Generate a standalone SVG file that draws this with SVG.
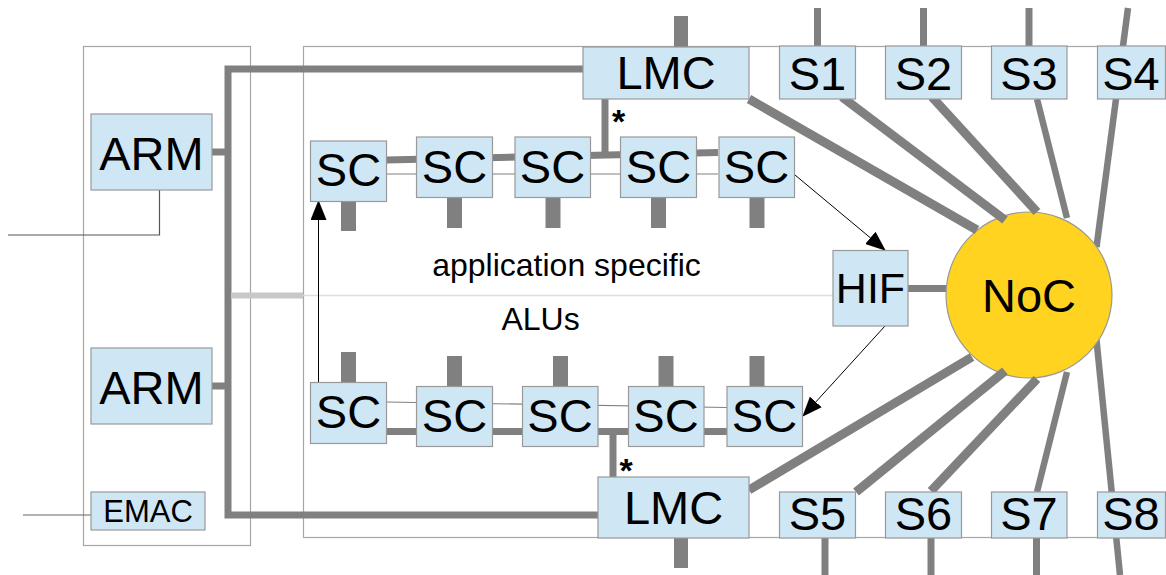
<svg xmlns="http://www.w3.org/2000/svg" width="1166" height="575" viewBox="0 0 1166 575">
  <style>
    .frame { fill: none; stroke: #a6a6a6; stroke-width: 1.2; }
    .box { fill: #cfe7f5; stroke: #999999; stroke-width: 1.2; }
    .lbl { font-family: "Liberation Sans", Arial, sans-serif; font-size: 47px; fill: #000; text-anchor: middle; }
    .small { font-size: 31px; }
    .note { font-family: "Liberation Sans", Arial, sans-serif; font-size: 32px; fill: #000; text-anchor: middle; }
    .star { font-family: "Liberation Sans", Arial, sans-serif; font-size: 34px; font-weight: bold; fill: #000; text-anchor: middle; }
    .bus { stroke: #808080; stroke-width: 7; fill: none; }
    .fat { stroke: #808080; stroke-width: 9; fill: none; }
    .mid { stroke: #808080; stroke-width: 6.5; fill: none; }
    .stub { stroke: #808080; stroke-width: 15; fill: none; }
    .thin { stroke: #808080; stroke-width: 1.2; fill: none; }
    .ext { stroke: #555555; stroke-width: 1.2; fill: none; }
    .arrow { stroke: #000; stroke-width: 1; fill: none; marker-end: url(#head); }
  </style>
  <defs>
    <marker id="head" markerWidth="20" markerHeight="16" refX="19" refY="8" orient="auto" markerUnits="userSpaceOnUse">
      <path d="M0,0 L20,8 L0,16 Z" fill="#000"/>
    </marker>
  </defs>

  <!-- enclosing frames -->
  <rect class="frame" x="83.5" y="46.5" width="167" height="499"/>
  <rect class="frame" x="303.5" y="46.5" width="900" height="491"/>

  <g id="connectors">
    <!-- host bus -->
    <polyline class="bus" points="583,69 228,69 228,515 598,515"/>
    <line class="bus" x1="212" y1="152" x2="228" y2="152"/>
    <line class="bus" x1="212" y1="386" x2="228" y2="386"/>
    <line stroke="#c8c8c8" stroke-width="6" x1="231" y1="295.5" x2="303" y2="295.5"/>
    <line stroke="#dddddd" stroke-width="1.5" x1="303" y1="295.5" x2="833" y2="295.5"/>
    <!-- external links -->
    <polyline class="ext" points="159.5,190 159.5,235 8,235"/>
    <line stroke="#666" stroke-width="1.2" x1="23" y1="515" x2="91" y2="515"/>

    <!-- upper SC chain -->
    <line class="bus" x1="386" y1="160" x2="718" y2="152.5"/>
    <line class="thin" x1="386" y1="174" x2="718" y2="174"/>
    <line class="bus" x1="605" y1="99" x2="605" y2="156"/>
    <line class="stub" x1="348.5" y1="201" x2="348.5" y2="231"/>
    <line class="stub" x1="454.5" y1="197" x2="454.5" y2="228"/>
    <line class="stub" x1="553" y1="197" x2="553" y2="228"/>
    <line class="stub" x1="658.5" y1="197" x2="658.5" y2="228"/>
    <line class="stub" x1="757" y1="197" x2="757" y2="228"/>
    <line stroke="#808080" stroke-width="14" x1="681" y1="16" x2="681" y2="47"/>

    <!-- lower SC chain -->
    <line class="bus" x1="386" y1="431.5" x2="727" y2="431.5"/>
    <line class="thin" x1="386" y1="402" x2="727" y2="407.5"/>
    <line class="bus" x1="613" y1="431" x2="613" y2="477"/>
    <line class="stub" x1="348.5" y1="352" x2="348.5" y2="382"/>
    <line class="stub" x1="454.5" y1="356" x2="454.5" y2="387"/>
    <line class="stub" x1="560.5" y1="356" x2="560.5" y2="387"/>
    <line class="stub" x1="666" y1="356" x2="666" y2="387"/>
    <line class="stub" x1="757" y1="356" x2="757" y2="387"/>
    <line stroke="#808080" stroke-width="14" x1="681" y1="538" x2="681" y2="568"/>

    <!-- control flow arrows -->
    <line class="arrow" x1="318.5" y1="382" x2="318.5" y2="201"/>
    <line class="arrow" x1="795" y1="175" x2="885" y2="250"/>
    <line class="arrow" x1="885" y1="326" x2="803" y2="416"/>

    <!-- HIF to NoC -->
    <line class="bus" x1="908" y1="288.5" x2="947" y2="288.5"/>

    <!-- slave port stubs -->
    <line class="bus" x1="817.5" y1="8" x2="817.5" y2="46"/>
    <line class="bus" x1="923.5" y1="8" x2="923.5" y2="46"/>
    <line class="bus" x1="1029" y1="8" x2="1029" y2="46"/>
    <line class="bus" x1="825" y1="538" x2="825" y2="575"/>
    <line class="bus" x1="931" y1="538" x2="931" y2="575"/>
    <line class="bus" x1="1036.5" y1="538" x2="1036.5" y2="575"/>
    <line class="mid" x1="1096.5" y1="247" x2="1128" y2="8"/>
    <line class="mid" x1="1096.5" y1="340" x2="1120" y2="575"/>
  </g>

  <g id="noc">
    <circle cx="1029" cy="295" r="83" fill="#ffd320" stroke="#999999" stroke-width="1.2"/>
    <text class="lbl" x="1029" y="312">NoC</text>
  </g>

  <g id="noc-links">
    <line class="fat" x1="749" y1="99" x2="977" y2="230"/>
    <line class="fat" x1="842" y1="97" x2="1005" y2="220"/>
    <line class="fat" x1="932" y1="97" x2="1037" y2="212"/>
    <line class="mid" x1="1037" y1="99" x2="1067" y2="218"/>
    <line class="fat" x1="749" y1="490" x2="972" y2="357"/>
    <line class="fat" x1="856" y1="492" x2="1005" y2="371"/>
    <line class="fat" x1="931" y1="491" x2="1037" y2="379"/>
    <line class="mid" x1="1037" y1="492" x2="1067" y2="372"/>
  </g>

  <g id="arm1"><rect class="box" x="91" y="114" width="121" height="76"/><text class="lbl" x="151.5" y="170">ARM</text></g>
  <g id="arm2"><rect class="box" x="91" y="348" width="121" height="76"/><text class="lbl" x="151.5" y="404">ARM</text></g>
  <g id="emac"><rect class="box" x="91" y="492" width="114" height="38"/><text class="lbl small" x="148" y="522">EMAC</text></g>

  <g id="lmc1"><rect class="box" x="583" y="47" width="166" height="52"/><text class="lbl" x="666" y="89">LMC</text></g>
  <g id="lmc2"><rect class="box" x="598" y="477" width="151" height="61"/><text class="lbl" x="673.5" y="523.5">LMC</text></g>
  <g id="hif"><rect class="box" x="833" y="250.5" width="75" height="75.5"/><text class="lbl" x="870.5" y="302.5" style="font-size:43px">HIF</text></g>

  <g id="sc1"><rect class="box" x="310.5" y="141" width="76" height="60.5"/><text class="lbl" x="348.5" y="186">SC</text></g>
  <g id="sc2"><rect class="box" x="416.5" y="137" width="76" height="60.5"/><text class="lbl" x="454.5" y="182.5">SC</text></g>
  <g id="sc3"><rect class="box" x="515" y="137" width="75.5" height="60.5"/><text class="lbl" x="552.5" y="182.5">SC</text></g>
  <g id="sc4"><rect class="box" x="620.5" y="137" width="76" height="60.5"/><text class="lbl" x="658.5" y="182.5">SC</text></g>
  <g id="sc5"><rect class="box" x="719" y="137" width="75.5" height="60.5"/><text class="lbl" x="756.5" y="182.5">SC</text></g>

  <g id="sc6"><rect class="box" x="310.5" y="382.5" width="76" height="61"/><text class="lbl" x="348.5" y="427.5">SC</text></g>
  <g id="sc7"><rect class="box" x="416.5" y="386.5" width="76" height="60"/><text class="lbl" x="454.5" y="431.5">SC</text></g>
  <g id="sc8"><rect class="box" x="522.5" y="386.5" width="75.5" height="60"/><text class="lbl" x="560" y="431.5">SC</text></g>
  <g id="sc9"><rect class="box" x="628.5" y="386.5" width="75.5" height="60"/><text class="lbl" x="666" y="431.5">SC</text></g>
  <g id="sc10"><rect class="box" x="727" y="386.5" width="75.5" height="60"/><text class="lbl" x="764.5" y="431.5">SC</text></g>

  <g id="s1"><rect class="box" x="779.5" y="46" width="76" height="53"/><text class="lbl" x="817.5" y="89.5">S1</text></g>
  <g id="s2"><rect class="box" x="885.5" y="46" width="76" height="53"/><text class="lbl" x="923.5" y="89.5">S2</text></g>
  <g id="s3"><rect class="box" x="991.5" y="46" width="75.5" height="53"/><text class="lbl" x="1029" y="89.5">S3</text></g>
  <g id="s4"><rect class="box" x="1097.5" y="46" width="68" height="53"/><text class="lbl" x="1131" y="89.5">S4</text></g>
  <g id="s5"><rect class="box" x="779.5" y="492" width="76" height="46"/><text class="lbl" x="817.5" y="530">S5</text></g>
  <g id="s6"><rect class="box" x="885.5" y="492" width="76" height="46"/><text class="lbl" x="923.5" y="530">S6</text></g>
  <g id="s7"><rect class="box" x="991.5" y="492" width="75.5" height="46"/><text class="lbl" x="1029" y="530">S7</text></g>
  <g id="s8"><rect class="box" x="1097.5" y="492" width="68" height="46"/><text class="lbl" x="1131" y="530">S8</text></g>

  <!-- annotations -->
  <text class="note" x="566.5" y="275.5">application specific</text>
  <text class="note" x="540.5" y="330">ALUs</text>
  <text class="star" x="618.5" y="133">*</text>
  <text class="star" x="626" y="482">*</text>
</svg>
